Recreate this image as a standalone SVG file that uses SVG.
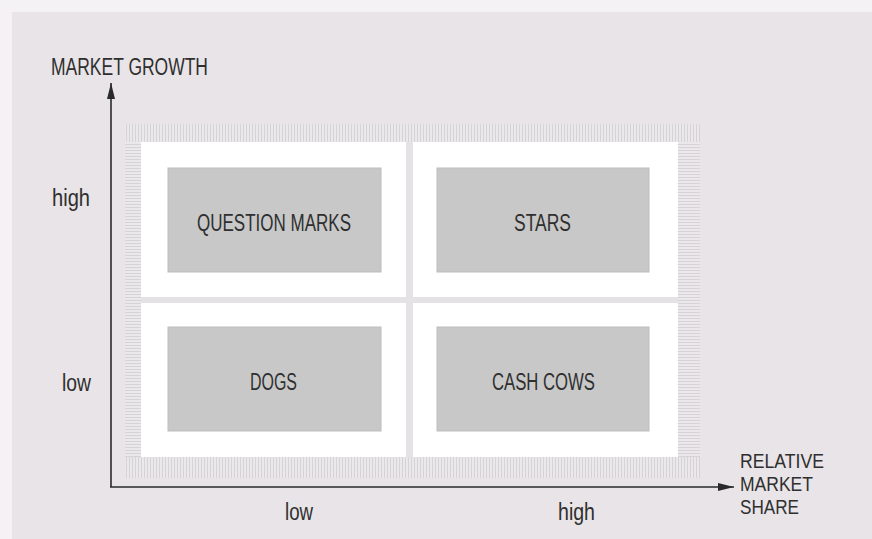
<svg xmlns="http://www.w3.org/2000/svg" width="872" height="539" viewBox="0 0 872 539">
  <defs>
    <pattern id="hatchV" width="3" height="10" patternUnits="userSpaceOnUse">
      <rect width="3" height="10" fill="#ebe8eb"/>
      <rect x="0" width="1" height="10" fill="#d6d3d6"/>
    </pattern>
    <pattern id="hatchH" width="10" height="3" patternUnits="userSpaceOnUse">
      <rect width="10" height="3" fill="#ebe8eb"/>
      <rect y="0" width="10" height="1" fill="#d6d3d6"/>
    </pattern>
    <marker id="arrow" viewBox="0 0 16 10" refX="16" refY="5" markerWidth="16" markerHeight="10" markerUnits="userSpaceOnUse" orient="auto">
      <path d="M0,1 L16,5 L0,9 Z" fill="#2a2a2a"/>
    </marker>
  </defs>
  <style>
    .lbl { font-family: "Liberation Sans", Arial, sans-serif; font-size: 23px; fill: #2f2f2f; }
    .lbl2 { font-family: "Liberation Sans", Arial, sans-serif; font-size: 20px; fill: #2f2f2f; }
    .box { fill: #c8c8c8; stroke: #bdbdbd; stroke-width: 1; }
    .axis { stroke: #2a2a2a; stroke-width: 1.6; fill: none; }
    .div { fill: #e4e2e4; }
  </style>

  <rect width="872" height="539" fill="#f4f2f4"/>
  <rect x="12" y="12" width="860" height="527" fill="#e8e4e7"/>

  <g id="frame">
    <rect x="125" y="124" width="575" height="18" fill="url(#hatchV)"/>
    <rect x="125" y="457" width="575" height="21" fill="url(#hatchV)"/>
    <rect x="125" y="142" width="16" height="315" fill="url(#hatchH)"/>
    <rect x="678" y="142" width="22" height="315" fill="url(#hatchH)"/>
    <rect x="141" y="142" width="537" height="315" fill="#ffffff"/>
    <rect class="div" x="406" y="142" width="7" height="315"/>
    <rect class="div" x="141" y="297" width="537" height="6"/>
  </g>

  <g id="connectors">
    <line class="axis" x1="111" y1="487" x2="111" y2="83" marker-end="url(#arrow)"/>
    <line class="axis" x1="110" y1="487" x2="734" y2="487" marker-end="url(#arrow)"/>
  </g>

  <g id="question-marks">
    <rect class="box" x="168" y="168" width="213" height="104"/>
    <text class="lbl" x="197" y="231" textLength="154" lengthAdjust="spacingAndGlyphs">QUESTION MARKS</text>
  </g>
  <g id="stars">
    <rect class="box" x="437" y="168" width="212" height="104"/>
    <text class="lbl" x="514" y="231" textLength="57" lengthAdjust="spacingAndGlyphs">STARS</text>
  </g>
  <g id="dogs">
    <rect class="box" x="168" y="327" width="213" height="104"/>
    <text class="lbl" x="250" y="390" textLength="47" lengthAdjust="spacingAndGlyphs">DOGS</text>
  </g>
  <g id="cash-cows">
    <rect class="box" x="437" y="327" width="212" height="104"/>
    <text class="lbl" x="492" y="390" textLength="103" lengthAdjust="spacingAndGlyphs">CASH COWS</text>
  </g>

  <g id="y-axis-labels">
    <text class="lbl" x="51" y="75" textLength="157" lengthAdjust="spacingAndGlyphs">MARKET GROWTH</text>
    <text class="lbl" x="52" y="206" textLength="38" lengthAdjust="spacingAndGlyphs">high</text>
    <text class="lbl" x="62" y="391" textLength="29" lengthAdjust="spacingAndGlyphs">low</text>
  </g>
  <g id="x-axis-labels">
    <text class="lbl" x="285" y="520" textLength="28" lengthAdjust="spacingAndGlyphs">low</text>
    <text class="lbl" x="558" y="520" textLength="37" lengthAdjust="spacingAndGlyphs">high</text>
    <text class="lbl2" x="740" y="468" textLength="84" lengthAdjust="spacingAndGlyphs">RELATIVE</text>
    <text class="lbl2" x="740" y="491" textLength="73" lengthAdjust="spacingAndGlyphs">MARKET</text>
    <text class="lbl2" x="740" y="514" textLength="59" lengthAdjust="spacingAndGlyphs">SHARE</text>
  </g>
</svg>
